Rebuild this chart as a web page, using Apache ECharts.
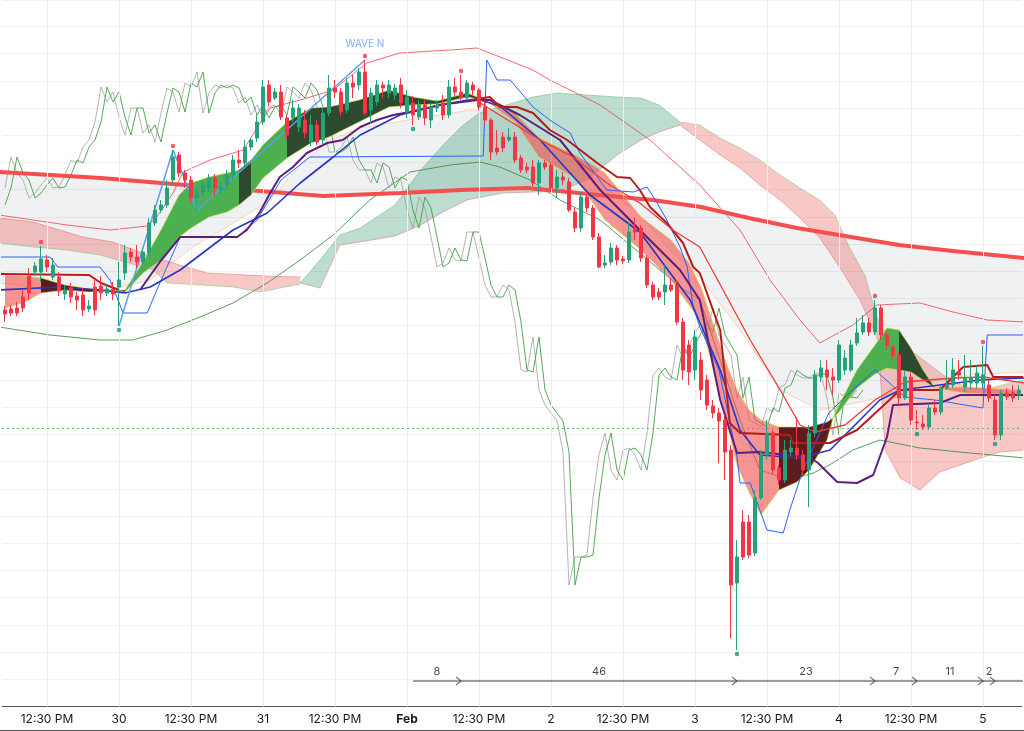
<!DOCTYPE html>
<html><head><meta charset="utf-8">
<script src="https://cdn.jsdelivr.net/npm/echarts@6/dist/echarts.min.js"></script>
<style>html,body{margin:0;padding:0;background:#fff}#c{width:1024px;height:731px}</style>
</head><body><div id="c"></div>
<script>
// ---------- candle data (arbitrary price units, hourly bars) ----------
const N = 170;
const open = [390,391,392,403,424,428,428,440,423,423,406,412,404,405,391,413,414,407,411,413,
427,448,443,438,447,477,490,495,520,545,527,520,502,508,512,522,510,515,525,540,
537,553,562,578,615,602,608,582,582,573,580,558,575,560,587,612,608,590,617,615,
628,590,598,615,607,605,615,588,597,583,595,580,592,597,585,613,608,602,615,610,
593,580,552,563,560,563,542,533,533,517,537,535,512,523,518,488,472,503,492,463,
435,438,452,441,440,472,472,442,415,408,408,415,415,378,355,330,340,320,294,287,
280,250,117,178,178,147,202,245,267,232,220,248,252,245,230,267,323,330,323,320,
330,330,357,368,377,368,392,365,353,345,302,323,278,276,273,292,288,312,315,328,
313,317,317,317,315,300,265,307,307,305];
const close = [386,387,387,392,407,434,441,433,435,409,410,403,400,390,394,390,407,411,406,420,
447,443,438,448,477,490,495,512,543,527,520,502,507,515,522,512,513,525,540,537,
553,560,578,613,598,608,583,565,592,592,567,575,558,587,612,608,588,617,613,628,
587,607,615,612,615,612,597,603,585,595,582,593,595,585,613,608,602,617,610,593,
580,548,548,552,563,540,530,530,517,537,533,512,523,520,490,472,503,492,463,433,
437,452,440,439,468,468,442,415,403,403,415,410,378,330,328,363,310,295,287,279,
248,115,143,143,145,202,245,267,230,220,250,252,245,230,267,325,332,323,320,355,
342,355,367,377,368,392,365,355,345,302,323,280,277,273,292,288,312,315,330,325,
322,322,327,325,302,265,307,303,302,310];
const low = [378,384,384,388,400,424,418,428,420,404,400,397,390,384,388,385,400,404,400,374,
420,438,432,434,444,474,487,492,516,523,512,497,490,504,508,504,506,510,520,532,
534,550,558,575,594,600,580,560,578,568,562,554,555,555,584,602,584,587,602,610,
584,577,594,602,602,600,592,582,575,580,575,572,588,580,582,604,600,600,605,590,
575,540,545,548,558,537,527,527,514,505,530,508,502,515,488,468,468,488,460,432,
432,435,435,436,437,460,438,412,400,400,395,408,375,320,315,320,300,290,282,237,
220,62,50,140,142,144,200,240,226,215,217,244,240,225,193,263,318,310,305,317,
325,328,354,365,364,365,360,350,340,295,300,275,270,270,270,285,285,310,312,320,
308,310,312,310,298,260,260,300,298,300];
const high = [394,395,398,410,432,438,454,445,442,428,415,417,408,412,400,420,424,416,418,438,
455,452,455,452,482,495,500,520,550,548,530,524,512,520,526,526,518,530,545,550,
560,562,585,620,620,612,615,585,600,596,590,585,580,592,625,620,612,622,625,632,
640,612,620,618,620,616,622,610,604,600,600,597,600,605,620,622,625,620,618,612,
600,582,570,568,572,568,545,537,540,540,540,538,530,528,522,492,508,506,495,467,
445,457,455,444,478,482,475,445,418,412,435,422,420,382,360,370,348,325,300,292,
285,255,160,190,185,210,250,280,270,235,260,260,283,250,275,330,340,340,332,360,
350,360,382,385,382,400,395,368,355,348,330,328,290,285,295,300,315,340,342,340,
345,340,335,354,320,305,310,312,315,315];

// ---------- axis labels ----------
const xLabelIdx = [7,19,31,43,55,67,79,91,103,115,127,139,151,163];
const xLabelText = ['12:30 PM','30','12:30 PM','31','12:30 PM','Feb','12:30 PM','2','12:30 PM','3','12:30 PM','4','12:30 PM','5'];

// ---------- pivots ----------
const pivotHighIdx = [6,28,60,76,145,163];
const pivotLowIdx = [19,68,122,152,165];
const waveN = [[19,'L'],[28,'H'],[32,'L'],[60,'H']];
const barCountPivots = [68,76,122,145,152,163,165];

// ---------- indicator lines: [bar index, price] ----------
const ema200 = [[-1,528],[16,522],[32,514],[53,504],[66,507],[76,510],[87,512],[99,505],[108,500],[116,493],[124,482],[132,472],[141,463],[149,455],[158,449],[170,442]];
const ema50 = [[-1,417],[9.2,410],[15.8,408],[24.2,420],[31.3,453],[37.5,475],[44.2,500],[49.2,535],[54.2,560],[59.2,572],[69.2,582],[77.5,590],[82.5,588],[85.8,575],[92.5,550],[99.2,517],[105.8,485],[111.3,447],[115.8,423],[122.5,370],[129.2,310],[135.8,290],[144.2,300],[152.5,315],[160.8,325],[170,328]];
const bbUpper = [[-1,485],[4.7,480],[10.3,475],[17.5,470],[23.7,474],[25.3,483],[28,507],[29.7,528],[34.2,540],[39.7,550],[42,572],[44.2,592],[49.2,600],[54.7,610],[60.3,637],[65.8,647],[74.2,650],[78.7,652],[82.5,643],[88,630],[90.8,620],[99.2,595],[107.5,560],[115.8,515],[122.5,470],[127.5,420],[132.5,380],[135.8,357],[141.3,375],[145.3,395],[152.5,397],[158,388],[163.7,380],[170,378]];
const bbLower = [[-1,373],[7.5,365],[15.8,360],[21.3,360],[27,370],[32.5,383],[38,397],[43.7,417],[49.2,440],[54.7,465],[60.8,500],[67.5,528],[74.2,535],[79.2,538],[82.5,533],[87.5,520],[92.5,500],[99.2,480],[105.8,447],[112.5,413],[115.8,400],[119.2,340],[122.5,280],[125.8,230],[130.8,220],[134.7,227],[138,237],[141.3,250],[145.8,260],[152.5,252],[160.8,247],[170,242]];

// Ichimoku cloud pieces (upper edge / lower edge)
const cloudRed1Top = [[-1,482],[4.7,478],[13,463],[18,458],[24.7,443],[28,437],[33.7,427],[43.7,424],[49.2,423]];
const cloudRed1Bot = [[-1,457],[4.7,453],[10.3,450],[15.8,445],[24.7,430],[27,417],[32.5,415],[38,413],[42.5,408],[49.2,416]];
const cloudGreenTop = [[49.2,417],[52.5,440],[55.8,465],[59.2,472],[65,495],[69,528],[73,555],[76,573],[79,587],[83,594],[88,603],[92,607],[97,605],[102,603],[106,602],[109,595],[112.5,578]];
const cloudGreenBot = [[49.2,417],[52.5,412],[55.8,455],[59.2,458],[65,464],[69,474],[73,488],[77,500],[83,507],[88,508],[92,508],[97,520],[102,545],[106,560],[109,568],[112.5,575]];
const cloudRed2Top = [[112.5,578],[115.8,575],[119.2,562],[122.5,552],[125.8,540],[129.2,525],[132.5,512],[135.8,500],[138.3,485],[140.8,452],[143.3,425],[145.5,380]];
const cloudRed2Bot = [[112.5,575],[115.8,560],[119.2,545],[122.5,532],[125.8,515],[129.2,500],[132.5,482],[135.8,462],[139.2,432],[142.5,400],[145.5,360]];
const cloudRed3Top = [[145.5,380],[147.5,360],[150.8,350],[154.2,335],[157.5,320],[160.8,312],[164.2,312],[167.5,317],[170,320]];
const cloudRed3Bot = [[145.5,360],[146.7,250],[149.2,222],[152.5,210],[155.8,228],[159.2,235],[162.5,242],[165.8,248],[170,250]];

// MA ribbon
const ribbonIdx  = [0,3,6,10,14,20,23,26,29,31,34,37,39,41,43,47,51,54,59,64,68,72,77,80,85,89,95,98,100,106,111,114,116,120,122,124,126,129,132,134,137,138,139,142,145,147,149,151,153,155,160,169];
const ribbonFast = [392,397,407,410,408,410,438,470,505,517,523,527,530,540,555,578,592,593,600,610,603,599,607,600,578,543,522,497,480,450,420,395,378,285,235,208,185,210,218,230,260,282,295,330,355,372,370,352,330,312,307,305];
const ribbonSlow = [425,424,422,415,411,408,427,440,463,472,483,488,495,505,522,542,557,563,578,593,595,596,603,600,587,562,545,535,527,483,460,437,413,340,310,290,280,273,273,273,278,282,288,312,326,332,330,328,320,312,313,310];
const ribbonPhases = [[0,6,'bear'],[6,20,'bearDark'],[20,39,'bull'],[39,41,'bullDark'],[41,47,'bull'],[47,80,'bullDark'],[80,129,'bear'],[129,138,'bearDark'],[138,149,'bull'],[149,155,'bullDark'],[155,169,'bear']];

const blueThick = [[-1,410],[9.2,413],[15.8,410],[20,407],[24.2,413],[29.2,430],[32.5,445],[38,470],[43.7,487],[49.2,517],[54.7,543],[59.2,565],[65.8,585],[72.5,595],[79.2,600],[82.5,594],[89.2,560],[97.5,505],[105.8,468],[114.2,400],[119.2,330],[122.5,270],[125.8,245],[132.5,242],[137.5,250],[142.5,280],[145.8,300],[149.2,310],[155.8,315],[162.5,320],[170,322]];
const blueThin = [[-1,443],[7.5,443],[8.8,433],[15.8,433],[17.5,420],[19.7,387],[23.7,387],[25.3,410],[29.2,463],[38.7,463],[42,480],[46,520],[50.8,543],[79.7,544],[80.3,640],[82,620],[84.2,620],[88,593],[90.8,580],[94.2,567],[95.8,547],[100.3,510],[104.7,508],[107,513],[108.7,497],[110.3,480],[112.5,453],[113.7,433],[114.7,393],[115.8,373],[119,330],[122,243],[122.5,217],[124.2,217],[127,170],[129.7,167],[130.8,190],[133,230],[137.3,287],[140.7,307],[145,330],[150,303],[155,300],[163,292],[163.7,365],[170,365]];
const purple = [[22.5,410],[25.8,438],[29.2,463],[38.7,463],[40.3,470],[42.5,488],[44.2,507],[45.8,523],[48,533],[50.3,547],[53.7,557],[56.3,560],[59.2,573],[62,580],[64.7,585],[67.5,588],[72.5,595],[77.5,600],[80.8,600],[85.8,585],[92.5,560],[99.2,510],[105.8,470],[112.5,430],[115.8,400],[119.2,300],[122,247],[125.5,248],[134,243],[135.5,237],[138.7,218],[142,217],[144.7,225],[147,263],[148,295],[155.8,297],[159.2,305],[170,305]];
const darkRedL = [[-1,426],[14,425],[16,417],[19,410]];
const darkRed = [[77.5,600],[80.8,603],[82.5,593],[85.3,593],[88,587],[90.8,570],[93.7,560],[98.7,537],[102,523],[104.2,522],[105.8,510],[107.5,493],[110.3,477],[113,457],[114.7,433],[115.8,427],[119.2,370],[120.8,277],[122.5,267],[130.8,265],[131.3,257],[137.5,257],[142,270],[149.2,310],[155.8,310],[159.7,333],[163.7,335],[164.7,323],[170,323]];
const redLine = [[79.2,597],[89.2,560],[94.7,543],[100.3,517],[105.8,497],[111.3,470],[115.8,453],[124.2,360],[129.2,310],[132.5,275],[135,268],[140,275],[145,300],[150,318],[158,322],[163,323],[170,317]];
const supportLevel = 272;
const CHIKOU_SHIFT = 26;

// ---------- build option ----------
const cats = Array.from({length: N}, (_, i) => String(i));
const candleData = cats.map((_, i) => [open[i], close[i], low[i], high[i]]);
const UP = '#26a17b', DOWN = '#f23645';

function polySeries(upper, lower, fill, z) {
  return {
    type: 'custom', xAxisIndex: 1, yAxisIndex: 0, z: z, silent: true,
    data: [[0, 0]],
    renderItem: function (params, api) {
      const pts = upper.map(d => api.coord(d)).concat(lower.slice().reverse().map(d => api.coord(d)));
      return { type: 'polygon', shape: { points: pts }, style: { fill: fill } };
    }
  };
}
function lineSeries(data, color, width, z, extra) {
  return Object.assign({
    type: 'line', xAxisIndex: 1, yAxisIndex: 0, data: data, showSymbol: false, symbol: 'none',
    z: z, silent: true, clip: true, lineStyle: { color: color, width: width }
  }, extra || {});
}

const series = [];
series.push({
  type: 'line', xAxisIndex: 1, yAxisIndex: 0, data: [], z: 0, silent: true,
  markLine: {
    silent: true, symbol: 'none', label: { show: false },
    data: xLabelIdx.map(v => ({ xAxis: v, lineStyle: { color: '#eeeeee', width: 1, type: 'solid' } }))
      .concat([{ yAxis: supportLevel, lineStyle: { color: '#66bb6a', width: 1, type: [2, 3] } }])
  }
});
series.push(polySeries(ema200, ema50, 'rgba(120,123,134,0.11)', 1));
series.push(polySeries(cloudRed1Top, cloudRed1Bot, 'rgba(229,57,53,0.28)', 2));
series.push(polySeries(cloudGreenTop, cloudGreenBot, 'rgba(46,150,110,0.32)', 2));
series.push(polySeries(cloudRed2Top, cloudRed2Bot, 'rgba(229,57,53,0.28)', 2));
series.push(polySeries(cloudRed3Top, cloudRed3Bot, 'rgba(229,57,53,0.28)', 2));
[[cloudRed1Top,'rgba(229,57,53,0.35)'],[cloudRed1Bot,'rgba(76,175,80,0.35)'],[cloudGreenTop,'rgba(76,175,80,0.4)'],[cloudGreenBot,'rgba(229,57,53,0.35)'],
 [cloudRed2Top,'rgba(76,175,80,0.35)'],[cloudRed2Bot,'rgba(229,57,53,0.35)'],[cloudRed3Top,'rgba(76,175,80,0.35)'],[cloudRed3Bot,'rgba(229,57,53,0.35)']]
  .forEach(p => series.push(lineSeries(p[0], p[1], 1, 2)));
series.push(lineSeries(bbUpper, 'rgba(242,54,69,0.75)', 1, 3));
series.push(lineSeries(bbLower, 'rgba(56,142,60,0.85)', 1, 3));
series.push(lineSeries(ema50, 'rgba(255,183,130,0.6)', 1, 3));
const chikou = [], chikouShadow = [];
for (let i = 0; i + CHIKOU_SHIFT < N; i++) chikou.push([i, close[i + CHIKOU_SHIFT]]);
for (let i = 0; i + CHIKOU_SHIFT + 1 < N; i++) chikouShadow.push([i, close[i + CHIKOU_SHIFT + 1]]);
series.push(lineSeries(chikouShadow, 'rgba(150,150,150,0.7)', 1, 3));
series.push(lineSeries(chikou, 'rgba(67,160,71,0.9)', 1, 3));
const emaIndex = series.length;
series.push(lineSeries(ema200, '#f44e4e', 4, 4));
const phaseColor = { bear: 'rgba(239,83,80,0.62)', bearDark: '#5b1d1d', bull: '#4caf50', bullDark: '#2e4a2e' };
const rf = ribbonIdx.map((x, k) => [x, ribbonFast[k]]);
const rs = ribbonIdx.map((x, k) => [x, ribbonSlow[k]]);
ribbonPhases.forEach(ph => {
  const f = rf.filter(d => d[0] >= ph[0] && d[0] <= ph[1]);
  const s = rs.filter(d => d[0] >= ph[0] && d[0] <= ph[1]);
  series.push(polySeries(f, s, phaseColor[ph[2]], 5));
});
series.push(lineSeries(rf, 'rgba(205,220,57,0.6)', 1, 5));
series.push(lineSeries(rs, 'rgba(205,220,57,0.6)', 1, 5));
series.push(lineSeries(blueThin, '#2962ff', 1, 6));
series.push(lineSeries(blueThick, '#2336c8', 1.6, 6));
series.push(lineSeries(purple, '#5c1f80', 2, 6));
series.push(lineSeries(darkRedL, '#b71c1c', 2, 6));
series.push(lineSeries(darkRed, '#b71c1c', 2, 6));
series.push(lineSeries(redLine, '#ef3b3b', 1.3, 6));
const waveData = waveN.map(w => [w[0], w[1] === 'H' ? high[w[0]] : low[w[0]]]);
series.push(lineSeries(waveData, '#5b9cf6', 1.5, 7));
series.push({
  type: 'candlestick', xAxisIndex: 0, yAxisIndex: 0, data: candleData, z: 8, barWidth: 4, silent: true,
  itemStyle: { color: UP, color0: DOWN, borderColor: UP, borderColor0: DOWN, borderWidth: 1 }
});
series.push({ type: 'scatter', xAxisIndex: 1, yAxisIndex: 0, z: 9, silent: true, symbolSize: 4.5, symbolOffset: [0, -4],
  itemStyle: { color: DOWN }, data: pivotHighIdx.map(i => [i, high[i]]) });
series.push({ type: 'scatter', xAxisIndex: 1, yAxisIndex: 0, z: 9, silent: true, symbolSize: 4.5, symbolOffset: [0, 4],
  itemStyle: { color: '#089981' }, data: pivotLowIdx.map(i => [i, low[i]]) });
series.push({ type: 'scatter', xAxisIndex: 1, yAxisIndex: 0, z: 9, silent: true, symbolSize: 1,
  itemStyle: { color: 'rgba(0,0,0,0)' },
  label: { show: true, formatter: 'WAVE N', position: 'inside', offset: [0, -16], color: '#5b9cf6', fontSize: 10, fontFamily: 'Inter, Roboto, sans-serif' },
  data: [[waveN[3][0], high[waveN[3][0]]]] });
const rulerLevel = 19;
series.push(lineSeries([[barCountPivots[0], rulerLevel], [N, rulerLevel]], '#3a3a3a', 1, 9, { clip: true }));
series.push({ type: 'scatter', xAxisIndex: 1, yAxisIndex: 0, z: 9, silent: true,
  symbol: 'path://M0,0L6,5L0,10', symbolSize: [5, 8], symbolOffset: [-2.5, 0], symbolKeepAspect: false,
  itemStyle: { color: 'rgba(0,0,0,0)', borderColor: '#3a3a3a', borderWidth: 1 },
  data: barCountPivots.slice(1).map(i => [i, rulerLevel]) });
series.push({ type: 'scatter', xAxisIndex: 1, yAxisIndex: 0, z: 9, silent: true, symbolSize: 1,
  itemStyle: { color: 'rgba(0,0,0,0)' },
  label: { show: true, position: 'inside', offset: [0, -9], color: '#131722', fontSize: 11, fontFamily: 'Inter, Roboto, sans-serif',
    formatter: p => String(p.value[2]) },
  data: barCountPivots.slice(1).map((b, k) => { const a = barCountPivots[k]; return [(a + b) / 2, rulerLevel, b - a]; }) });

const option = {
  animation: false,
  backgroundColor: '#ffffff',
  grid: { left: 2, right: 2, top: 0, bottom: 24.5 },
  xAxis: [
    { type: 'category', data: cats, boundaryGap: true,
      axisLine: { show: true, onZero: false, lineStyle: { color: '#555', width: 1 } },
      axisTick: { show: false }, splitLine: { show: false },
      axisLabel: { show: true, margin: 7, color: '#131722', fontSize: 12, fontFamily: 'Inter, Roboto, sans-serif',
        interval: (idx) => xLabelIdx.indexOf(idx) >= 0,
        formatter: (v, idx) => { const k = xLabelIdx.indexOf(idx); const t = k >= 0 ? xLabelText[k] : ''; return t === 'Feb' ? '{b|Feb}' : t; },
        rich: { b: { fontWeight: 'bold', fontSize: 12, color: '#131722', fontFamily: 'Inter, Roboto, sans-serif' } } } },
    { type: 'value', min: -0.5, max: N - 0.5, show: false, splitLine: { show: false } }
  ],
  yAxis: { type: 'value', min: -6.5, max: 700, interval: 27.2, axisLabel: { show: false }, axisLine: { show: false }, axisTick: { show: false },
    splitLine: { show: true, lineStyle: { color: '#f0f0f0', width: 1 } } },
  visualMap: [{ show: false, type: 'piecewise', seriesIndex: emaIndex, dimension: 0,
    pieces: [{ lt: 53, color: '#f44e4e' }, { gte: 53, lte: 87, color: '#43a047' }, { gt: 87, color: '#f44e4e' }] }],
  graphic: [{ type: 'line', shape: { x1: 0, y1: 730.5, x2: 1024, y2: 730.5 }, style: { stroke: '#555', lineWidth: 1 }, silent: true }],
  series: series
};
const chart = echarts.init(document.getElementById('c'), null, { renderer: 'canvas' });
chart.setOption(option);
</script></body></html>
